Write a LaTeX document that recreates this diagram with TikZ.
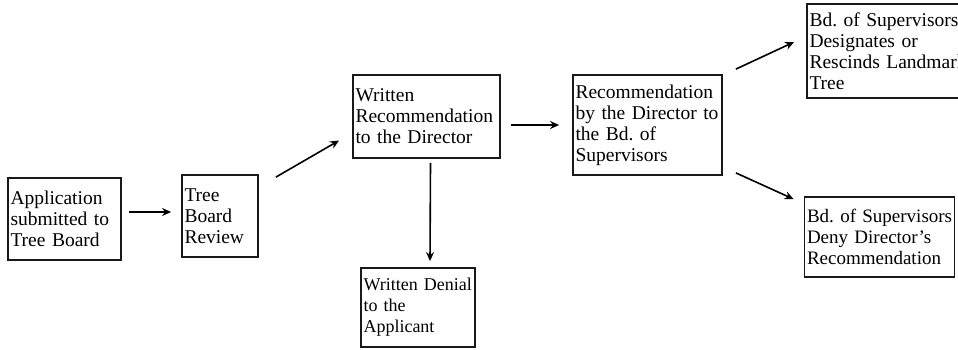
\documentclass[tikz,border=0pt]{standalone}
\usepackage{fontspec}
\setmainfont{Liberation Serif}
\usetikzlibrary{arrows.meta}
\hyphenpenalty=10000
\exhyphenpenalty=10000
\hbadness=10000
\hfuzz=50pt
\begin{document}
\begin{tikzpicture}[x=1pt,y=-1pt,
  box/.style={draw=black!90,line width=1.8pt,fill=white,inner xsep=2.5pt,inner ysep=3pt,align=left,
    font=\fontsize{19.5}{21}\selectfont},
  arr/.style={line width=1.6pt,-{Stealth[length=9pt,width=8pt]}}]
\useasboundingbox (0,0) rectangle (958,349);
\fill[white] (0,0) rectangle (958,349);
\node[box,minimum width=113pt,minimum height=82pt,text width=108pt] (b1) at (64.5,219) {Application\\submitted~to\\Tree~Board};
\node[box,minimum width=76pt,minimum height=82pt,text width=71pt] (b2) at (220,216) {Tree\\Board\\Review};
\node[box,minimum width=147pt,minimum height=83pt,text width=142pt] (b3) at (426.5,116.5) {Written\\Recommendation\\to~the~Director};
\node[box,minimum width=149pt,minimum height=100pt,text width=144pt] (b4) at (647.5,125) {Recommendation\\by~the~Director~to\\the~Bd.~of\\Supervisors};
\node[box,minimum width=168pt,minimum height=94pt,text width=163pt] (b5) at (891,51) {Bd.~of~Supervisors\\Designates~or\\Rescinds~Landmark\\Tree};
\node[box,minimum width=150pt,minimum height=80pt,text width=145pt,font=\fontsize{19}{21}\selectfont] (b6) at (879.5,237) {Bd.~of~Supervisors\\Deny~Director's\\Recommendation};
\node[box,minimum width=114pt,minimum height=79pt,text width=109pt,font=\fontsize{18}{21}\selectfont] (b7) at (418,307.5) {Written~Denial\\to~the\\Applicant};
\draw[arr] ([shift={(7,-7)}]b1.east) -- ([shift={(-10,-4)}]b2.west);
\draw[arr] ([shift={(17,3)}]b2.north east) -- ([shift={(-13,24)}]b3.west);
\draw[arr] ([shift={(10,8.5)}]b3.east) -- ([xshift=-13pt]b4.west);
\draw[arr] ([shift={(4,4)}]b3.south) -- ([shift={(12,-6)}]b7.north);
\draw[arr] ([shift={(13,-5)}]b4.north east) -- ([shift={(-12,-9)}]b5.west);
\draw[arr] ([shift={(13,-3)}]b4.south east) -- ([shift={(-10,3)}]b6.north west);
\end{tikzpicture}
\end{document}
